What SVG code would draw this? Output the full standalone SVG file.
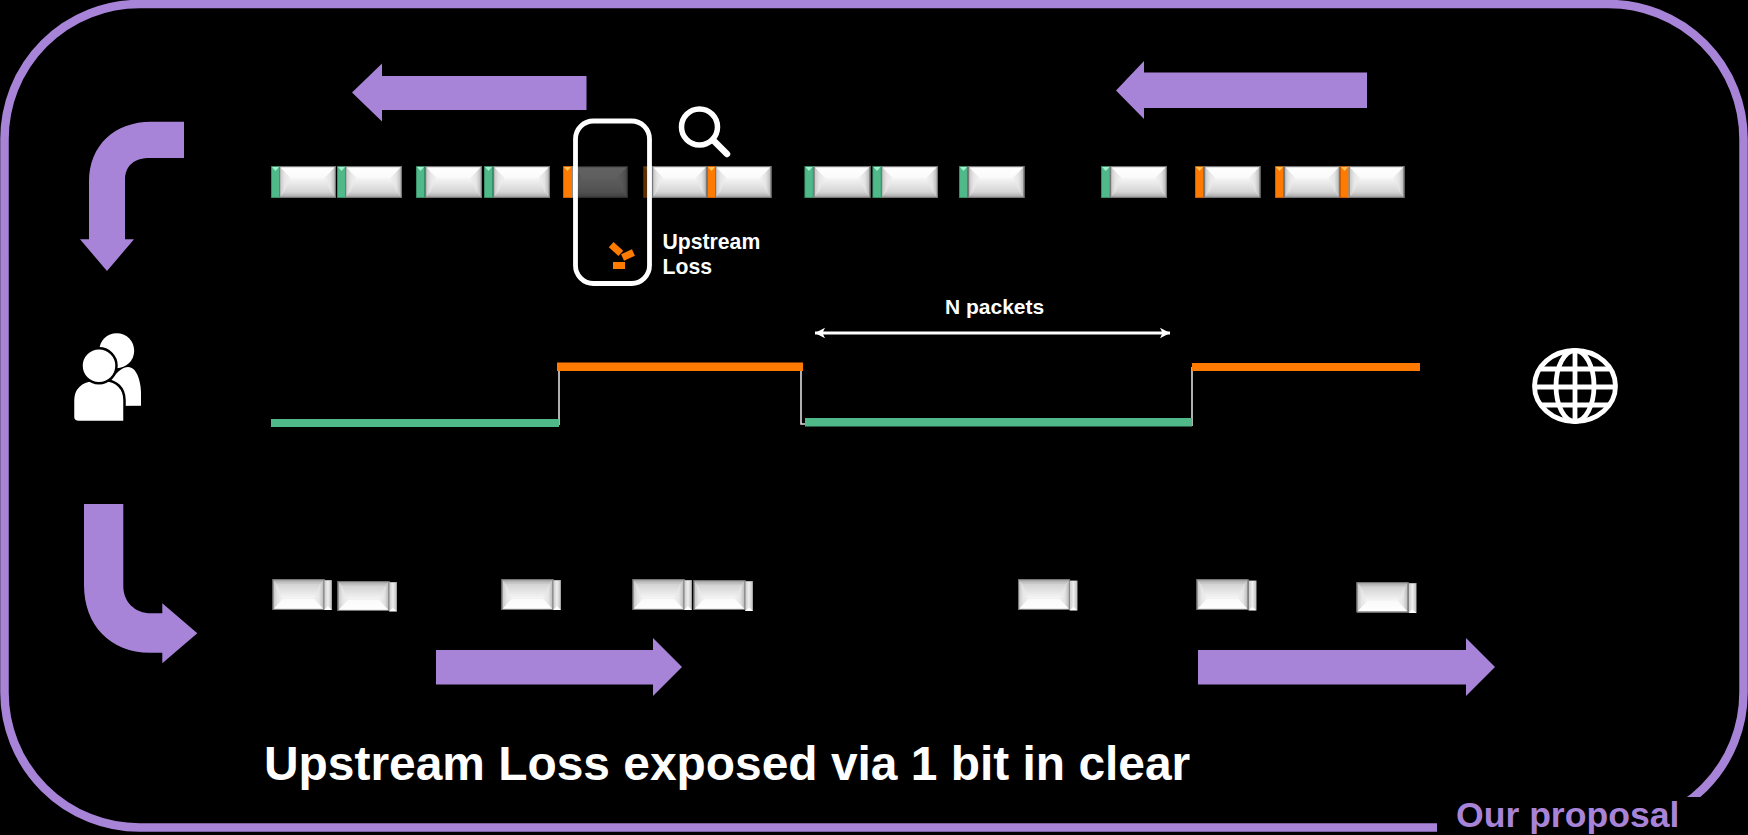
<svg xmlns="http://www.w3.org/2000/svg" width="1748" height="835" viewBox="0 0 1748 835">
<style>
.a{fill:#a884d8}
.t{font-family:"Liberation Sans",Arial,sans-serif;font-weight:700;fill:#fff}
.w{fill:#fff}
.o{fill:#ff7a00}
.g{fill:#4fb98a}
.wl{stroke:#fff;fill:none}
</style>
<defs>
<linearGradient id="gt" x1="0" y1="0" x2="0" y2="1"><stop offset="0" stop-color="#fff"/><stop offset="1" stop-color="#fafafa"/></linearGradient>
<linearGradient id="gc" x1="0" y1="0" x2="0" y2="1"><stop offset="0" stop-color="#f6f6f6"/><stop offset="1" stop-color="#d4d4d4"/></linearGradient>
<linearGradient id="gb" x1="0" y1="0" x2="0" y2="1"><stop offset="0" stop-color="#d4d4d4"/><stop offset="1" stop-color="#a0a0a0"/></linearGradient>
<linearGradient id="gl" x1="0" y1="0" x2="1" y2="0"><stop offset="0" stop-color="#c0c0c0"/><stop offset=".5" stop-color="#e6e6e6"/><stop offset="1" stop-color="#f2f2f2"/></linearGradient>
<linearGradient id="gr" x1="0" y1="0" x2="1" y2="0"><stop offset="0" stop-color="#f2f2f2"/><stop offset=".5" stop-color="#e4e4e4"/><stop offset="1" stop-color="#b0b0b0"/></linearGradient>
<linearGradient id="gtb" x1="0" y1="0" x2="1" y2="0"><stop offset="0" stop-color="#c8c8c8"/><stop offset=".5" stop-color="#eee"/><stop offset="1" stop-color="#bbb"/></linearGradient>
<g id="bev">
<rect x="0" y="0" width="56" height="32" fill="#dcdcdc"/>
<polygon points="0,0 56,0 45,12 11,12" fill="url(#gt)"/>
<polygon points="11,12 45,12 51,26 5,26" fill="url(#gc)"/>
<polygon points="0,0 11,12 5,26 0,32" fill="url(#gl)"/>
<polygon points="56,0 45,12 51,26 56,32" fill="url(#gr)"/>
<polygon points="0,32 5,26 51,26 56,32" fill="url(#gb)"/>
<rect x=".6" y=".6" width="54.8" height="30.8" fill="none" stroke="#777" stroke-width="1.2"/>
</g>
<symbol id="up" viewBox="0 0 56 32" preserveAspectRatio="none"><use href="#bev"/></symbol>
<symbol id="dn" viewBox="0 0 56 32" preserveAspectRatio="none"><use href="#bev" transform="translate(0 32) scale(1 -1)"/></symbol>
<symbol id="tg" viewBox="0 0 9 32" preserveAspectRatio="none"><rect width="9" height="32" fill="#4fb98a"/><rect width="9" height="32" fill="none" stroke="#2f7d5a" stroke-width="1.4"/><polygon points="1,1 8,1 4.5,5" fill="#a5f0d0"/></symbol>
<symbol id="to" viewBox="0 0 9 32" preserveAspectRatio="none"><rect width="9" height="32" fill="#ff7a00"/><rect width="9" height="32" fill="none" stroke="#b25500" stroke-width="1.4"/><polygon points="1,1 8,1 4.5,5" fill="#ffc060"/></symbol>
<symbol id="tw" viewBox="0 0 8 32" preserveAspectRatio="none"><rect width="8" height="32" fill="url(#gtb)"/><rect width="8" height="32" fill="none" stroke="#888" stroke-width="1"/><polygon points="0,32 8,32 4,28" fill="#fff"/></symbol>
<marker id="m" viewBox="0 0 12 12" refX="11" refY="6" markerWidth="12" markerHeight="12" markerUnits="userSpaceOnUse" orient="auto-start-reverse"><path d="M1 .8 L11 6 L1 11.2 L3.5 6 Z" fill="#fff"/></marker>
</defs>
<rect width="1748" height="835" fill="#000"/>
<rect id="frame" x="4.5" y="4" width="1739" height="823.5" rx="135" ry="135" fill="none" stroke="#a884d8" stroke-width="8.5"/>
<rect x="1437" y="797" width="273" height="38" fill="#000"/>
<text id="proposal" class="t" x="1456" y="827" font-size="35.6" style="fill:#a884d8">Our proposal</text>

<g id="flow-arrows">
<polygon class="a" points="352,92.5 382,63.5 382,76 586.5,76 586.5,110 382,110 382,121.5"/>
<polygon class="a" points="1116,90.5 1144,61 1144,72.5 1367,72.5 1367,108 1144,108 1144,119"/>
<polygon class="a" points="436,650 653,650 653,638 682,667 653,696 653,684.5 436,684.5"/>
<polygon class="a" points="1198,650 1466,650 1466,638 1495,667 1466,696 1466,684.5 1198,684.5"/>
<path class="a" d="M184 121.7 V158 H150 C135 158 125 165 125 180 V239.3 H134 L107 271 L80 239.3 H89 V181.7 C89 145 115 121.7 151 121.7 Z"/>
<path class="a" d="M84 504 H123.3 V586 C123.3 602 135 613.3 151 613.3 H162.3 V603.3 L197.3 633.3 L162.3 663.3 V652.7 H150 C110 652.7 84 625 84 585 Z"/>
</g>

<g id="top-packets">
<g id="p1"><use href="#tg" x="271" y="166" width="9" height="32"/><use href="#up" x="279" y="166" width="57" height="32"/></g>
<g id="p2"><use href="#tg" x="337" y="166" width="9" height="32"/><use href="#up" x="345" y="166" width="57" height="32"/></g>
<g id="p3"><use href="#tg" x="416" y="166" width="9" height="32"/><use href="#up" x="425" y="166" width="57" height="32"/></g>
<g id="p4"><use href="#tg" x="484" y="166" width="9" height="32"/><use href="#up" x="493" y="166" width="57" height="32"/></g>
<g id="p5"><use href="#to" x="563" y="166" width="9" height="32"/><use href="#up" x="571.5" y="166" width="56.5" height="32"/></g>
<g id="p6"><use href="#to" x="643" y="166" width="10" height="32"/><use href="#up" x="652" y="166" width="55" height="32"/></g>
<g id="p7"><use href="#to" x="707" y="166" width="9" height="32"/><use href="#up" x="715" y="166" width="56.5" height="32"/></g>
<g id="p8"><use href="#tg" x="804.5" y="166" width="9" height="32"/><use href="#up" x="813.5" y="166" width="57" height="32"/></g>
<g id="p9"><use href="#tg" x="872.5" y="166" width="9" height="32"/><use href="#up" x="881" y="166" width="57" height="32"/></g>
<g id="p10"><use href="#tg" x="959" y="166" width="9" height="32"/><use href="#up" x="968" y="166" width="56.5" height="32"/></g>
<g id="p11"><use href="#tg" x="1101" y="166" width="9.5" height="32"/><use href="#up" x="1110" y="166" width="57" height="32"/></g>
<g id="p12"><use href="#to" x="1195" y="166" width="9" height="32"/><use href="#up" x="1204" y="166" width="56.5" height="32"/></g>
<g id="p13"><use href="#to" x="1275" y="166" width="9" height="32"/><use href="#up" x="1284" y="166" width="56" height="32"/></g>
<g id="p14"><use href="#to" x="1340" y="166" width="9" height="32"/><use href="#up" x="1348.5" y="166" width="56" height="32"/></g>
</g>

<g id="loss-window">
<rect x="575.5" y="121" width="74" height="162.5" rx="18" fill="#000" fill-opacity=".62" stroke="#fff" stroke-width="4.8"/>
<rect class="o" x="613" y="262" width="12" height="7"/>
<rect class="o" x="-6.5" y="-3.5" width="13" height="7" transform="translate(616 249) rotate(42)"/>
<rect class="o" x="-6" y="-3.5" width="12" height="7" transform="translate(628 255) rotate(-25)"/>
</g>
<g id="magnifier" class="wl">
<circle cx="699.5" cy="127" r="18" stroke-width="5.5"/>
<path d="M713 140 L727 154" stroke-width="6.5" stroke-linecap="round"/>
</g>
<text class="t" x="662.5" y="249" font-size="21.2">Upstream</text>
<text class="t" x="662.5" y="274" font-size="21.2">Loss</text>
<text class="t" x="945" y="313.5" font-size="21">N packets</text>

<g id="connectors">
<path d="M815 333 H1170" stroke="#fff" stroke-width="2.8" fill="none" marker-start="url(#m)" marker-end="url(#m)"/>
<path d="M559 370 V425" stroke="#ddd" stroke-width="1.6" fill="none"/>
<path d="M801 370 V424 H806" stroke="#ddd" stroke-width="1.6" fill="none"/>
<path d="M1192 426 V367" stroke="#ddd" stroke-width="1.6" fill="none"/>
<rect class="g" x="271" y="419" width="288" height="8"/>
<rect class="o" x="557" y="362.5" width="246" height="8.5"/>
<rect class="g" x="805" y="418" width="387" height="8.5"/>
<rect class="o" x="1192" y="363" width="228" height="8"/>
</g>

<g id="bottom-packets">
<g id="b1"><use href="#dn" x="272.5" y="579" width="52" height="31"/><use href="#tw" x="324" y="580" width="8" height="30"/></g>
<g id="b2"><use href="#dn" x="337.5" y="581" width="52" height="30"/><use href="#tw" x="389" y="582" width="8" height="29.5"/></g>
<g id="b3"><use href="#dn" x="501.5" y="579" width="52" height="31"/><use href="#tw" x="553" y="580" width="8" height="30"/></g>
<g id="b4"><use href="#dn" x="632.5" y="579" width="52" height="31"/><use href="#tw" x="684" y="580" width="8" height="30"/></g>
<g id="b5"><use href="#dn" x="693.5" y="580" width="52" height="30"/><use href="#tw" x="745" y="581" width="8" height="30"/></g>
<g id="b6"><use href="#dn" x="1018" y="579" width="52" height="31"/><use href="#tw" x="1069.5" y="580.5" width="8" height="30"/></g>
<g id="b7"><use href="#dn" x="1196.5" y="579" width="52" height="31"/><use href="#tw" x="1248.5" y="580.5" width="8" height="30"/></g>
<g id="b8"><use href="#dn" x="1356.5" y="582" width="52" height="30.5"/><use href="#tw" x="1408.5" y="583" width="8" height="30"/></g>
</g>

<g id="users">
<path class="w" d="M106 406 V394 C106 385 118 367 128 367 C137 367 141 382 141 394 V405.7 Z"/>
<circle class="w" cx="116.7" cy="350.7" r="17.5"/>
<path class="w" stroke="#000" stroke-width="2.5" d="M73 417 V400 C73 388 82 380.5 92 380.5 H106 C116 380.5 124.5 388 124.5 400 V422 H79 C75 422 73 420 73 417 Z"/>
<circle class="w" cx="99" cy="365.7" r="17.5" stroke="#000" stroke-width="2.5"/>
</g>
<g id="globe" class="wl" stroke-width="4.8">
<ellipse cx="1575" cy="386" rx="40.5" ry="35.5"/>
<ellipse cx="1575" cy="386" rx="19" ry="35.5"/>
<path d="M1575 350 V421 M1541 369 H1609 M1535 387 H1615 M1541 405 H1609"/>
</g>
<text id="title" class="t" x="264" y="780" font-size="47.9">Upstream Loss exposed via 1 bit in clear</text>
</svg>
